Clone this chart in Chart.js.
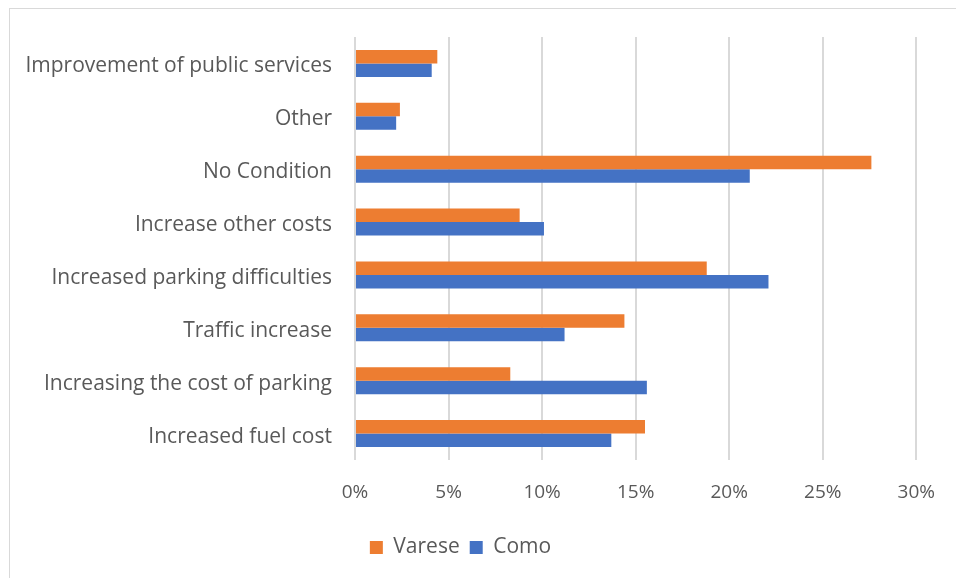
<!DOCTYPE html>
<html>
<head>
<meta charset="utf-8">
<script src="https://cdn.jsdelivr.net/npm/chart.js@4"></script>
<style>
  html, body { margin: 0; padding: 0; background: #fff; }
  #wrap { position: relative; width: 956px; height: 578px; overflow: hidden; }
  #frame { position: absolute; left: 9px; top: 8px; width: 1000px; height: 640px; border: 1.5px solid #d9d9d9; }
  canvas { position: absolute; left: 0; top: 0; }
</style>
</head>
<body>
<div id="wrap">
  <div id="frame"></div>
  <canvas id="chart" width="956" height="578"></canvas>
</div>
<script>
// conditions, top to bottom
const labels = [
    'Improvement of public services',
    'Other',
    'No Condition',
    'Increase other costs',
    'Increased parking difficulties',
    'Traffic increase',
    'Increasing the cost of parking',
    'Increased fuel cost'
];
// share of answers, %
const varese = [4.4, 2.4, 27.6, 8.8, 18.8, 14.4, 8.3, 15.5];
const como = [4.1, 2.2, 21.1, 10.1, 22.1, 11.2, 15.6, 13.7];
const xTicks = [0, 5, 10, 15, 20, 25, 30];

const textColor = '#595959';
const fontFamily = '"Open Sans", Lato, sans-serif';

let chart;

onload = () => {
    const ctx = document.getElementById('chart');
    chart = new Chart(ctx, {
        type: 'bar',
        data: {
            labels,
            datasets: [{
                label: 'Varese',
                data: varese,
                backgroundColor: '#ED7D31'
            }, {
                label: 'Como',
                data: como,
                backgroundColor: '#4472C4'
            }]
        },
        options: {
            indexAxis: 'y',
            responsive: false,
            animation: false,
            maintainAspectRatio: false,
            categoryPercentage: 0.51,
            barPercentage: 1,
            layout: {
                padding: { top: 37, right: 35, left: 0, bottom: 10 }
            },
            scales: {
                x: {
                    min: 0,
                    max: 30,
                    afterBuildTicks: (scale) => {
                        scale.ticks = xTicks.map(v => ({ value: v }));
                    },
                    afterFit: (scale) => { scale.height = 67; },
                    border: { display: false },
                    grid: { color: '#d9d9d9', lineWidth: 2, drawTicks: false },
                    ticks: {
                        padding: 21,
                        color: textColor,
                        font: { family: fontFamily, size: 19 },
                        callback: (v) => v + '%'
                    }
                },
                y: {
                    afterFit: (scale) => { scale.width = 355; },
                    border: { display: false },
                    grid: { display: false, drawTicks: false },
                    ticks: {
                        padding: 23,
                        labelOffset: 3,
                        color: textColor,
                        font: { family: fontFamily, size: 21 }
                    }
                }
            },
            plugins: {
                legend: {
                    position: 'bottom',
                    labels: {
                        boxWidth: 13,
                        boxHeight: 13,
                        padding: 10,
                        color: textColor,
                        font: { family: fontFamily, size: 21 }
                    }
                },
                tooltip: { enabled: false }
            }
        }
    });
};
</script>
</body>
</html>
